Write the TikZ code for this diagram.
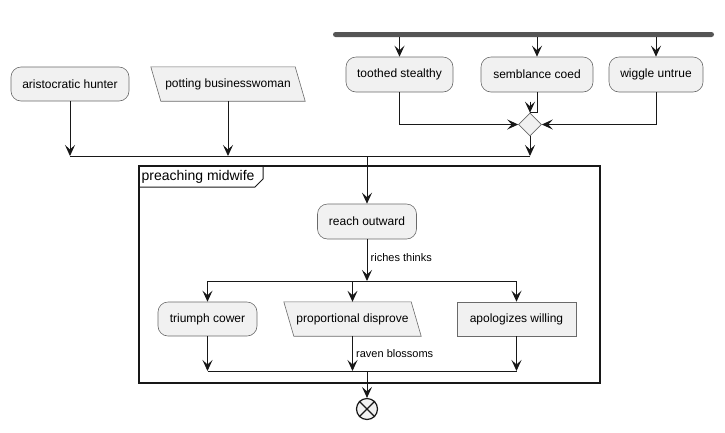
\documentclass[tikz,border=0pt]{standalone}
\usepackage{fontspec}
\setmainfont{Liberation Sans}
\usetikzlibrary{arrows.meta,shapes.geometric}
\definecolor{fillc}{HTML}{F1F1F1}
\definecolor{linec}{HTML}{181818}
\definecolor{bordc}{HTML}{6A6A6A}
\definecolor{barc}{HTML}{555555}
\begin{document}
\begin{tikzpicture}[x=1pt,y=-1pt,
  font=\fontsize{12}{14}\selectfont,
  act/.style={draw=bordc, line width=0.6pt, fill=fillc, rounded corners=10pt, inner sep=0pt, minimum height=34pt},
  boxn/.style={draw=bordc, line width=0.6pt, fill=fillc, inner sep=0pt, minimum height=34pt},
  ion/.style={inner sep=0pt, minimum height=34pt},
  ln/.style={draw=linec, line width=1pt},
  arr/.style={draw=linec, line width=1pt, -{Stealth[length=11pt,width=10pt,inset=4.5pt]}},
  lbl/.style={font=\fontsize{11}{13}\selectfont, anchor=west, inner sep=0pt},
  para/.style={draw=bordc, line width=0.6pt, fill=fillc}
]
\useasboundingbox (0,0) rectangle (725,432);

% top fork bar
\node[fill=barc, minimum width=381pt, minimum height=5pt, inner sep=0pt, rounded corners=2.5pt] (bar) at (523.5,34.5) {};

% top row
\node[act, minimum width=118pt] (ah) at (70,84) {aristocratic hunter};
\node[ion, minimum width=154pt] (pb) at (228,84) {};
\draw[para] (pb.north west) -- ([xshift=-10pt]pb.north east) -- (pb.south east) -- ([xshift=10pt]pb.south west) -- cycle;
\node at (pb) {potting businesswoman};

\node[act, minimum width=107pt, minimum height=35pt] (ts) at (399.5,74.5) {toothed stealthy};
\node[act, minimum width=112pt, minimum height=35pt] (sc) at (537,74.5) {semblance coed};
\node[act, minimum width=94pt, minimum height=35pt] (wu) at (656,74.5) {wiggle untrue};

\draw[arr] (ts.north |- bar.south) -- (ts.north);
\draw[arr] (sc.north |- bar.south) -- (sc.north);
\draw[arr] (wu.north |- bar.south) -- (wu.north);

\node[diamond, draw=bordc, line width=0.6pt, fill=fillc, minimum width=23pt, minimum height=23pt, inner sep=0pt] (dia) at (530,124.5) {};
\draw[arr] (ts.south) |- (dia.west);
\draw[arr] (wu.south) |- (dia.east);
\draw[ln] (sc.south) |- (dia.north);
\draw[arr] ([yshift=11pt]dia.north) -- (dia.north);

% merge 1
\coordinate (m1) at (300,156);
\draw[ln] (ah.south |- m1) -- (dia.south |- m1);
\draw[arr] (ah.south) -- (ah.south |- m1);
\draw[arr] (pb.south) -- (pb.south |- m1);
\draw[arr] (dia.south) -- (dia.south |- m1);

% frame
\draw[draw=linec, line width=1.5pt] (139,166) rectangle (600,383);
\draw[draw=linec, line width=1pt] (139,187) -- (255,187) -- (263,179) -- (263,166);
\node[anchor=west, inner sep=0pt, font=\fontsize{14}{16}\selectfont] (fr) at (141.5,176.5) {preaching midwife};

\node[act, minimum width=99pt, minimum height=35pt] (ro) at (367,221.5) {reach outward};
\draw[arr] (ro.north |- m1) -- (ro.north);

% split
\coordinate (s2) at (367,281);
\draw[arr] (ro.south) -- (s2);
\node[lbl] (l1) at (370.5,258) {riches thinks};

\node[act, minimum width=99pt] (tc) at (207.5,319) {triumph cower};
\node[ion, minimum width=137pt] (pd) at (352.5,319) {};
\draw[para] (pd.north west) -- ([xshift=-10pt]pd.north east) -- (pd.south east) -- ([xshift=10pt]pd.south west) -- cycle;
\node at (pd) {proportional disprove};
\node[boxn, minimum width=119pt] (aw) at (516.5,319) {apologizes willing};

\draw[ln] (tc.north |- s2) -- (aw.north |- s2);
\draw[arr] (tc.north |- s2) -- (tc.north);
\draw[arr] (pd.north |- s2) -- (pd.north);
\draw[arr] (aw.north |- s2) -- (aw.north);

% merge 2
\coordinate (m2) at (367,371);
\draw[ln] (tc.south |- m2) -- (aw.south |- m2);
\draw[arr] (tc.south) -- (tc.south |- m2);
\draw[arr] (pd.south) -- (pd.south |- m2);
\draw[arr] (aw.south) -- (aw.south |- m2);
\node[lbl] (l2) at (356,354) {raven blossoms};

% end
\node[circle, draw=linec, line width=1.2pt, fill=fillc, minimum size=21pt, inner sep=0pt] (en) at (367,409) {};
\draw[linec, line width=1.2pt] (en.north east) -- (en.south west);
\draw[linec, line width=1.2pt] (en.north west) -- (en.south east);
\draw[arr] (m2) -- (en.north);
\end{tikzpicture}
\end{document}
